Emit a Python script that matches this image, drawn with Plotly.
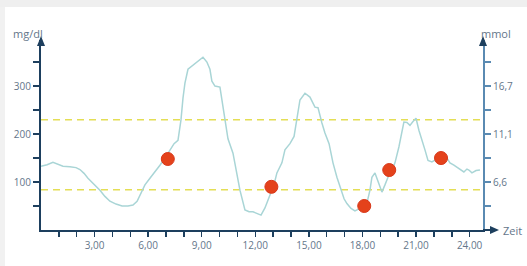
import plotly.graph_objects as go

# ---- data ----
hours = [0.0, 0.34, 0.67, 0.95, 1.23, 1.62, 1.96, 2.18, 2.41, 2.63, 3.02, 3.30, 3.58, 3.86, 4.20,
         4.54, 4.87, 5.15, 5.38, 5.54, 5.82, 6.10, 6.38, 6.66, 6.94, 7.22, 7.45, 7.67, 7.84, 7.95,
         8.06, 8.23, 8.45, 8.68, 8.90, 9.07, 9.29, 9.46, 9.57, 9.74, 10.02, 10.13, 10.30, 10.47,
         10.75, 10.97, 11.14, 11.42, 11.65, 11.87, 12.09, 12.32, 12.54, 12.82, 13.05, 13.21, 13.49,
         13.66, 13.94, 14.17, 14.33, 14.50, 14.78, 15.06, 15.34, 15.51, 15.73, 15.90, 16.13, 16.35,
         16.57, 16.74, 16.97, 17.13, 17.36, 17.58, 17.86, 18.08, 18.25, 18.42, 18.53, 18.70, 18.92,
         19.09, 19.26, 19.43, 19.65, 19.82, 20.04, 20.21, 20.32, 20.49, 20.66, 20.83, 21.00, 21.16,
         21.33, 21.50, 21.67, 21.89, 22.17, 22.45, 22.73, 22.90, 23.12, 23.29, 23.52, 23.68, 23.85,
         23.96, 24.13, 24.36, 24.58]
glucose = [133, 136, 141, 137, 133, 132, 130, 126, 118, 108, 94, 83, 70, 60, 54,
           50, 50, 52, 60, 73, 94, 108, 121, 135, 150, 167, 180, 187, 230, 275,
           306, 335, 342, 348, 355, 360, 350, 335, 310, 300, 298, 271, 235, 190,
           160, 120, 83, 42, 38, 38, 34, 31, 46, 73, 95, 119, 140,
           167, 180, 195, 229, 271, 285, 277, 256, 255, 223, 202, 180, 140,
           110, 90, 65, 55, 45, 40, 45, 52, 56, 83, 110, 119, 98,
           79, 94, 110, 125, 140, 173, 210, 225, 224, 218, 226, 233, 208,
           185, 167, 145, 142, 148, 150, 150, 140, 135, 131, 125, 121, 127,
           125, 119, 124, 125]

meas_hours = [7.1, 12.9, 18.1, 19.5, 22.4]
meas_values = [148, 90, 50, 125, 150]

target_low = 84
target_high = 230

x_tickvals = list(range(1, 25))
x_ticktext = [f"{h},00" if h % 3 == 0 else "" for h in x_tickvals]
y_tickvals = [50, 100, 150, 200, 250, 300, 350]
y_ticktext_left = ["", "100", "", "200", "", "300", ""]
y_ticktext_right = ["", "6,6", "", "11,1", "", "16,7", ""]

# ---- layout geometry (pixels) ----
W, H = 527, 266
L, R, T, B = 41, 483, 40, 230
XMAX = 24.75
YMAX = 396

def px(x):
    return (x - L) / (R - L)

def py(y):
    return (B - y) / (B - T)

NAVY = "#1d3f5e"
STEEL = "#5a8ab2"
TXT = "#64768a"
FONT = "Open Sans"

fig = go.Figure()

fig.add_trace(go.Scatter(x=hours, y=glucose, mode="lines",
                         line=dict(color="#a9d5d6", width=1.5), hoverinfo="skip"))
fig.add_trace(go.Scatter(x=meas_hours, y=meas_values, mode="markers",
                         marker=dict(color="#e4421b", size=13, line=dict(color="#d8381a", width=1)),
                         hoverinfo="skip"))
# dummy trace to activate right axis
fig.add_trace(go.Scatter(x=[None], y=[None], yaxis="y2", showlegend=False))

shapes = []
# background frame (top band)
shapes.append(dict(type="rect", xref="paper", yref="paper", x0=px(0), x1=px(W), y0=py(0), y1=py(7),
                   fillcolor="#efefef", line=dict(width=0), layer="below"))
# left band
shapes.append(dict(type="rect", xref="paper", yref="paper", x0=px(0), x1=px(5), y0=py(7), y1=py(H),
                   fillcolor="#f1f1f1", line=dict(width=0), layer="below"))
# target lines
for v in (target_low, target_high):
    shapes.append(dict(type="line", xref="x", yref="y", x0=0, x1=XMAX, y0=v, y1=v,
                       line=dict(color="#e4de55", width=1.5, dash="7px,5px"), layer="below"))
# x-axis extension & arrow
shapes.append(dict(type="line", xref="paper", yref="paper", x0=1, x1=px(493), y0=0, y1=0,
                   line=dict(color=NAVY, width=2)))
shapes.append(dict(type="path", xref="paper", yref="paper",
                   path=f"M{px(499)},{py(B)} L{px(490)},{py(B-4)} L{px(490)},{py(B+4)} Z",
                   fillcolor=NAVY, line=dict(width=0)))
# left arrow
shapes.append(dict(type="path", xref="paper", yref="paper",
                   path=f"M{px(L)},{py(36)} L{px(L-4)},{py(46)} L{px(L+4)},{py(46)} Z",
                   fillcolor=NAVY, line=dict(width=0)))
# right arrow
shapes.append(dict(type="path", xref="paper", yref="paper",
                   path=f"M{px(R)},{py(36)} L{px(R-4)},{py(46)} L{px(R+4)},{py(46)} Z",
                   fillcolor=NAVY, line=dict(width=0)))

annotations = [
    dict(text="mg/dl", xref="paper", yref="paper", x=px(28), y=py(33), showarrow=False,
         font=dict(family=FONT, size=11, color=TXT), xanchor="center", yanchor="middle"),
    dict(text="mmol", xref="paper", yref="paper", x=px(496), y=py(33), showarrow=False,
         font=dict(family=FONT, size=11, color=TXT), xanchor="center", yanchor="middle"),
    dict(text="Zeit", xref="paper", yref="paper", x=px(501), y=py(230), showarrow=False,
         font=dict(family=FONT, size=11, color=TXT), xanchor="left", yanchor="middle"),
]

fig.update_layout(
    width=W, height=H,
    margin=dict(l=L, r=W - R, t=T, b=H - B, pad=0),
    paper_bgcolor="white", plot_bgcolor="white",
    showlegend=False,
    shapes=shapes, annotations=annotations,
    xaxis=dict(range=[0, XMAX], showgrid=False, zeroline=False, showline=True,
               linecolor=NAVY, linewidth=2, ticks="outside", ticklen=5, tickwidth=1.5,
               tickcolor=NAVY, tickvals=x_tickvals, ticktext=x_ticktext,
               tickfont=dict(family=FONT, size=10, color=TXT)),
    yaxis=dict(range=[0, YMAX], showgrid=False, zeroline=False, showline=True,
               linecolor=NAVY, linewidth=2, ticks="outside", ticklen=6, tickwidth=1.5,
               tickcolor=NAVY, tickvals=y_tickvals, ticktext=y_ticktext_left,
               tickfont=dict(family=FONT, size=10, color=TXT)),
    yaxis2=dict(range=[0, YMAX], overlaying="y", side="right", showgrid=False, zeroline=False,
                showline=True, linecolor=STEEL, linewidth=2, ticks="outside", ticklen=6,
                tickwidth=1.5, tickcolor=STEEL, tickvals=y_tickvals, ticktext=y_ticktext_right,
                tickfont=dict(family=FONT, size=10, color=TXT)),
)

fig.write_html("out.html", config={"displayModeBar": False, "staticPlot": True},
               post_script=("document.documentElement.style.overflow='hidden';"
                            "document.body.style.margin='0';document.body.style.padding='0';"
                            "document.body.style.overflow='hidden';"
                            "document.body.style.background='white';"))
